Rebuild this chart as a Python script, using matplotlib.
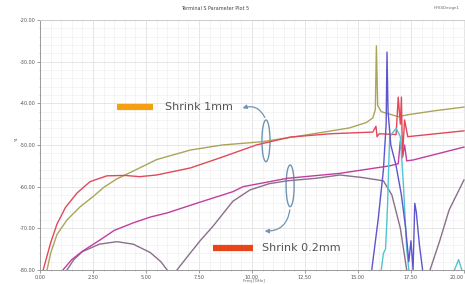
import numpy as np
import matplotlib
matplotlib.use("Agg")
import matplotlib.pyplot as plt
from matplotlib.patches import Ellipse

nan = np.nan

# ---- data (GHz, dB) ----
olive_f = [0.33, 0.5, 0.8, 1.27, 1.9, 2.5, 3.0, 3.6, 4.3, 5.5, 7.1, 8.6, 10.5, 12.3, 14.6, 15.4, 15.7, 15.82, 15.87, 15.93, 16.1, 16.9, 17.4, 18.6, 20.0]
olive_db = [-80, -76, -71.5, -68, -64.8, -62.4, -60.2, -58.2, -56.5, -53.5, -51.2, -50, -49.2, -47.8, -45.9, -44.6, -43.5, -41.5, -26.2, -40.5, -42, -43.2, -42.7, -41.8, -40.9]

red_f = [0.15, 0.5, 0.8, 1.2, 1.75, 2.36, 2.7, 3.16, 4.0, 4.7, 5.5, 7.1, 8.6, 10.2, 11.8, 13.7, 15.7, 15.85, 15.9, 16.0, 16.8, 16.9, 17.0, 17.05, 17.1, 17.2, 17.35, 20.0]
red_db = [-80, -73.5, -69, -65, -61.5, -58.8, -58.2, -57.4, -57.3, -57.6, -57.2, -55.5, -52.9, -50, -48.1, -47.3, -46.9, -45.5, -48, -47.3, -47.5, -38.5, -45, -38.5, -52.8, -44, -48, -46.6]

magenta_f = [1.08, 1.5, 2.0, 2.83, 3.5, 4.39, 5.2, 6.0, 7.5, 9.1, 9.58, 11.66, 14.15, 16.5, 16.9, 17.0, 17.1, 17.2, 17.3, 17.6, 20.0]
magenta_db = [-80, -77.5, -75.5, -72.8, -70.5, -68.7, -67.3, -66.3, -63.8, -61.2, -60.0, -58.0, -56.8, -55.0, -54.5, -49, -53, -50, -53.8, -53.6, -50.5]

purple_f = [1.27, 1.6, 2.0, 2.8, 3.63, 4.4, 5.2, 5.7, 6.0, nan, 6.46, 7.0, 7.55, 8.16, 9.1, 9.9, 10.8, 11.65, 13.0, 14.15, 15.2, 16.2, 16.6, 17.0, 17.3, nan, 18.4, 18.87, 19.3, 20.0]
purple_db = [-80, -77.5, -75.6, -73.8, -73.2, -73.8, -75.8, -78, -80, nan, -80, -76.5, -73, -69.5, -63.5, -60.8, -59.3, -58.6, -58.0, -57.2, -57.8, -58.6, -62, -70, -80, nan, -80, -72.8, -65.6, -58.4]

blue_f = [15.65, 15.95, 16.2, 16.33, 16.37, 16.42, 16.55, 16.8, 17.05, 17.25, 17.4, 17.5, 17.6, 17.68, 17.75, 17.9, 18.05]
blue_db = [-80, -68, -56, -45, -27.7, -42, -50, -55, -62, -70, -78, -73, -80, -64, -66, -74, -80]

cyan_f = [16.1, 16.2, 16.3, 16.35, 16.4, 16.45, 16.5, 16.8, 17.0, 17.15, 17.3, 17.4, nan, 19.55, 19.75, 19.9]
cyan_db = [-80, -76, -75, -70, -64, -55, -48, -46, -48, -60, -75, -80, nan, -80, -77.5, -80]

xticks = [0, 2.5, 5, 7.5, 10, 12.5, 15, 17.5, 20]
xtick_labels = ["0.00", "2.50", "5.00", "7.50", "10.00", "12.50", "15.00", "17.50", "20.00"]
yticks = [-80, -70, -60, -50, -40, -30, -20]
ytick_labels = ["-80.00", "-70.00", "-60.00", "-50.00", "-40.00", "-30.00", "-20.00"]

W, H = 465, 284
fig = plt.figure(figsize=(W / 100, H / 100), dpi=100)
fig.patch.set_facecolor("white")
ax = fig.add_axes([40 / W, 14 / H, 425 / W, 250 / H])
ax.set_xlim(0, 20.05)
ax.set_ylim(-80, -20)

ax.set_xticks(xticks)
ax.set_xticklabels(xtick_labels)
ax.set_yticks(yticks)
ax.set_yticklabels(ytick_labels)
ax.set_xticks(np.arange(0, 20.01, 0.5), minor=True)
ax.set_yticks(np.arange(-80, -19.9, 2), minor=True)
ax.grid(which="major", color="#e2e2e2", lw=0.6)
ax.grid(which="minor", color="#f0f0f0", lw=0.5)
ax.set_axisbelow(True)
ax.tick_params(axis="both", which="major", labelsize=3.5, colors="#777777", length=2, width=0.5, pad=1.5)
ax.tick_params(axis="both", which="minor", length=1, width=0.4, colors="#aaaaaa")
for lab in ax.get_xticklabels() + ax.get_yticklabels():
    lab.set_color("#555555")
ax.get_xticklabels()[-1].set_horizontalalignment("right")
ax.spines["right"].set_visible(False)
ax.spines["top"].set_color("#cccccc")
ax.spines["left"].set_color("#999999")
ax.spines["bottom"].set_color("#999999")
for s in ax.spines.values():
    s.set_linewidth(0.7)

lw = 1.0
ax.plot(purple_f, purple_db, color="#8a6f8c", lw=lw)
ax.plot(magenta_f, magenta_db, color="#c23d9f", lw=lw)
ax.plot(olive_f, olive_db, color="#aaa558", lw=lw)
ax.plot(red_f, red_db, color="#e2485a", lw=lw)
ax.plot(cyan_f, cyan_db, color="#4fc4d4", lw=lw)
ax.plot(blue_f, blue_db, color="#5f55cc", lw=lw)

# annotations
ax.plot([3.63, 5.33], [-40.9, -40.9], color="#f5a010", lw=4.5, solid_capstyle="butt")
ax.text(5.9, -40.9, "Shrink 1mm", fontsize=8, color="#555555", va="center", ha="left")
ax.plot([8.16, 10.05], [-74.7, -74.7], color="#e8461a", lw=4.5, solid_capstyle="butt")
ax.text(10.47, -74.7, "Shrink 0.2mm", fontsize=8, color="#555555", va="center", ha="left")

ecol = "#6f95b5"
ax.add_patch(Ellipse((10.66, -49.0), 0.38, 10, fill=False, ec=ecol, lw=1.0))
ax.add_patch(Ellipse((11.8, -59.8), 0.38, 10, fill=False, ec=ecol, lw=1.0))
ax.annotate("", xy=(9.43, -41.4), xytext=(10.66, -44),
            arrowprops=dict(arrowstyle="-|>", color=ecol, lw=0.9,
                            connectionstyle="arc3,rad=0.5", mutation_scale=6))
ax.annotate("", xy=(10.47, -70.6), xytext=(11.8, -64.9),
            arrowprops=dict(arrowstyle="-|>", color=ecol, lw=0.9,
                            connectionstyle="arc3,rad=-0.5", mutation_scale=6))

fig.text(215 / W, 1 - 8 / H, "Terminal S Parameter Plot 5", fontsize=3.5, color="#444444", ha="center", va="center")
fig.text(447 / W, 1 - 8 / H, "HFSSDesign1", fontsize=2.8, color="#666666", ha="center", va="center")
fig.text(17 / W, 1 - 140 / H, "Y1", fontsize=3, color="#666666", rotation=90, ha="center", va="center")
fig.text(254 / W, 1 - 281 / H, "Freq [GHz]", fontsize=3, color="#666666", ha="center", va="center")

fig.savefig("out.png", dpi=100, facecolor="white")
